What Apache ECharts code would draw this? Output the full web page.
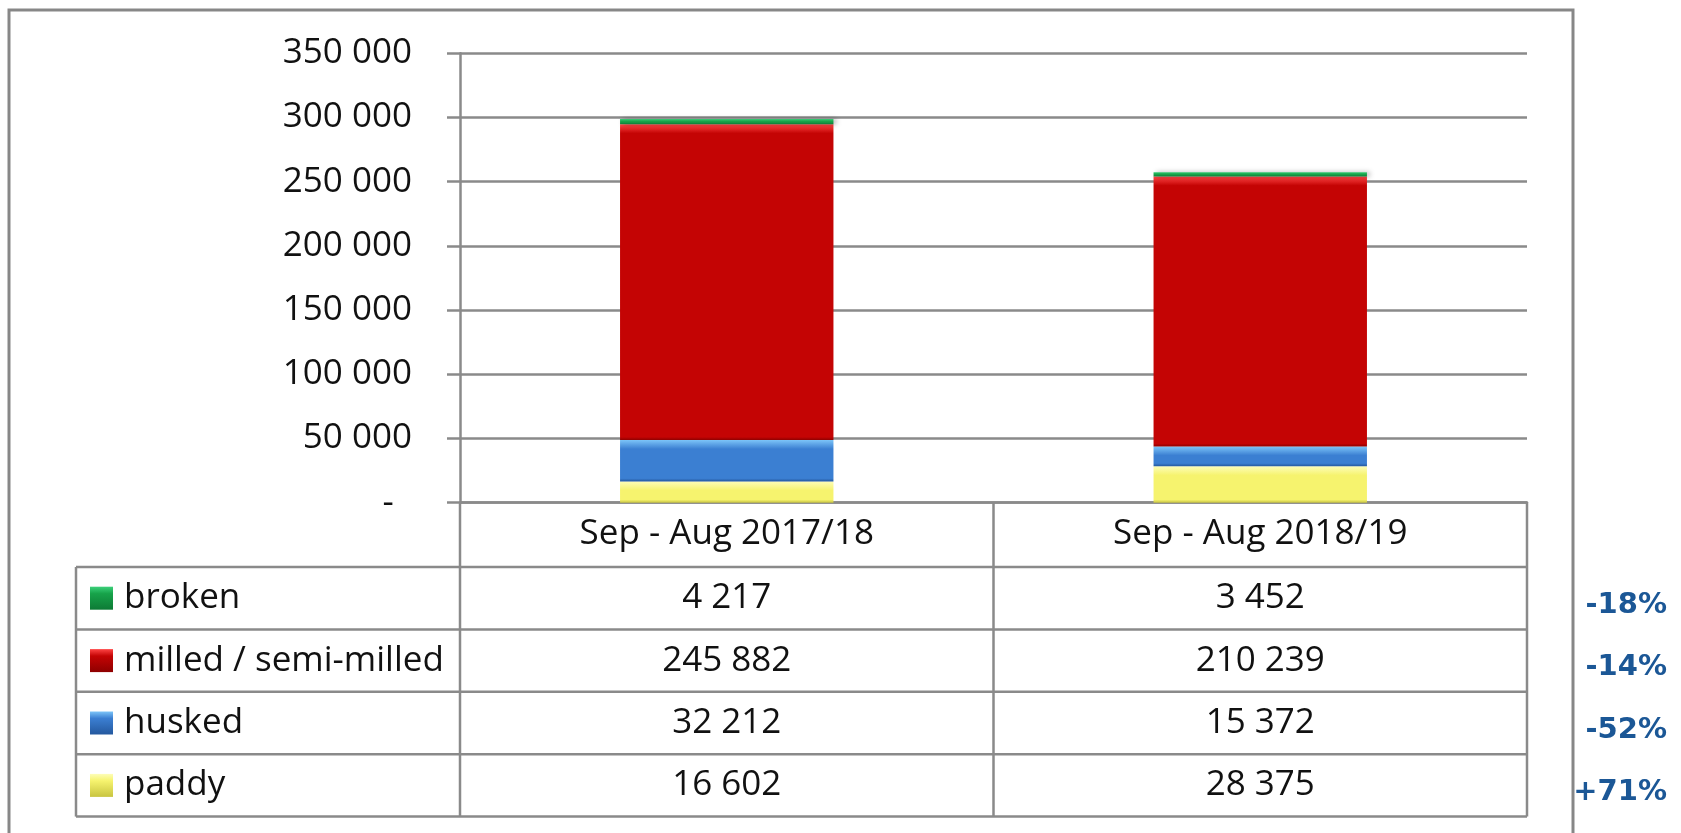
<!DOCTYPE html>
<html><head><meta charset="utf-8">
<script src="https://cdn.jsdelivr.net/npm/echarts@6/dist/echarts.min.js"></script>
<style>html,body{margin:0;padding:0;background:#fff}#c{width:1681px;height:833px}</style>
</head><body><div id="c"></div>
<script>
// ---- data ----
const categories = ['Sep - Aug 2017/18', 'Sep - Aug 2018/19'];
const seriesNames = ['broken', 'milled / semi-milled', 'husked', 'paddy'];
const broken = [4217, 3452];
const milled = [245882, 210239];
const husked = [32212, 15372];
const paddy = [16602, 28375];
const changeLabels = ['-18%', '-14%', '-52%', '+71%'];
const yMax = 350000;
const yInterval = 50000;

// ---- style ----
const FONT = '"Open Sans", "DejaVu Sans", sans-serif';
const PFONT = '"DejaVu Sans", Verdana, sans-serif';
const FS = 35;
const GRAY = '#8a8a8a';
const colors = {
  'broken': ['#3cd07a', '#17a34a', '#0d7a35'],
  'milled / semi-milled': ['#ff4545', '#c40404', '#8e0000'],
  'husked': ['#7cc4f8', '#3b7fd2', '#24589e'],
  'paddy': ['#fdfdb8', '#f6f36e', '#c8c440']
};
const valuesByName = {
  'broken': broken, 'milled / semi-milled': milled, 'husked': husked, 'paddy': paddy
};

function fmt(v) { return String(v).replace(/\B(?=(\d{3})+(?!\d))/g, ' '); }

const G = { left: 460, right: 1527, top: 53.3, bottom: 502.7 };
const plotH = G.bottom - G.top;
const tableLeft = 76, rowTop = 567, rowH = 62.4;

function grad(name, v) {
  const c = colors[name];
  const h = Math.max(1, v / yMax * plotH);
  const t = Math.min(0.45, 9 / h), b = Math.min(0.45, 3 / h);
  return new echarts.graphic.LinearGradient(0, 0, 0, 1, [
    { offset: 0, color: c[0] }, { offset: t, color: c[1] },
    { offset: 1 - b, color: c[1] }, { offset: 1, color: c[2] }
  ]);
}

const chart = echarts.init(document.getElementById('c'), null, { renderer: 'canvas' });

const stackOrder = ['paddy', 'husked', 'milled / semi-milled', 'broken'];
const series = stackOrder.map(name => ({
  name, type: 'bar', stack: 'total', barWidth: '40%',
  data: valuesByName[name].map(v => ({ value: v, itemStyle: { color: grad(name, v) } })),
  itemStyle: {
    shadowColor: 'rgba(0,0,0,0.3)', shadowBlur: 5, shadowOffsetX: 3, shadowOffsetY: 0
  },
  emphasis: { disabled: true }
}));

chart.setOption({
  animation: false,
  backgroundColor: '#fff',
  grid: { left: G.left, top: G.top, width: G.right - G.left, height: plotH, containLabel: false },
  xAxis: {
    type: 'category', data: categories,
    axisLine: { show: true, lineStyle: { color: GRAY, width: 2.5 } },
    axisTick: { show: false },
    axisLabel: { color: '#111', fontFamily: FONT, fontSize: FS, margin: 14 }
  },
  yAxis: {
    type: 'value', min: 0, max: yMax, interval: yInterval,
    axisLine: { show: true, lineStyle: { color: GRAY, width: 2.5 } },
    axisTick: { show: true, length: 13, lineStyle: { color: GRAY, width: 2.5 } },
    splitLine: { show: true, lineStyle: { color: GRAY, width: 2.5 } },
    axisLabel: {
      color: '#111', fontFamily: FONT, fontSize: FS, margin: 48,
      formatter: v => v === 0 ? '-  ' : fmt(v)
    }
  },
  series
});

// ---- table built from data ----
const graphics = [];
const line = (x1, y1, x2, y2) => graphics.push({
  type: 'line', shape: { x1, y1, x2, y2 }, silent: true,
  style: { stroke: GRAY, lineWidth: 2.5 }, z: 10
});
graphics.push({ type: 'rect', shape: { x: 9, y: 10, width: 1564, height: 900 }, silent: true,
  style: { fill: null, stroke: '#878787', lineWidth: 3 }, z: 10 });

const nRows = seriesNames.length;
const tableBottom = rowTop + nRows * rowH;
const xCenters = categories.map(c => chart.convertToPixel({ xAxisIndex: 0 }, c));
const colW = (G.right - G.left) / categories.length;

line(tableLeft, rowTop, tableLeft, tableBottom);
line(G.left, G.bottom, G.left, tableBottom);
for (let i = 1; i <= categories.length; i++) line(G.left + i * colW, G.bottom, G.left + i * colW, tableBottom);
for (let r = 0; r <= nRows; r++) line(tableLeft, rowTop + r * rowH, G.right, rowTop + r * rowH);

seriesNames.forEach((name, r) => {
  const cy = rowTop + r * rowH + rowH / 2;
  const c = colors[name];
  graphics.push({ type: 'rect', shape: { x: 90, y: cy - 11.5, width: 23, height: 23 }, silent: true,
    style: { fill: new echarts.graphic.LinearGradient(0, 0, 0, 1, [
      { offset: 0, color: c[0] }, { offset: 0.3, color: c[1] }, { offset: 1, color: c[2] }]) }, z: 11 });
  graphics.push({ type: 'text', silent: true, z: 11,
    style: { text: name, x: 124, y: cy, align: 'left', verticalAlign: 'middle',
      fontFamily: FONT, fontSize: FS, fill: '#111' } });
  valuesByName[name].forEach((v, i) => {
    graphics.push({ type: 'text', silent: true, z: 11,
      style: { text: fmt(v), x: xCenters[i], y: cy, align: 'center', verticalAlign: 'middle',
        fontFamily: FONT, fontSize: FS, fill: '#111' } });
  });
  graphics.push({ type: 'text', silent: true, z: 11,
    style: { text: changeLabels[r], x: 1667, y: cy + 7, align: 'right', verticalAlign: 'middle',
      fontFamily: PFONT, fontSize: 29, fontWeight: 'bold', fill: '#1b5796' } });
});

chart.setOption({ graphic: { elements: graphics } });
</script>
</body></html>
